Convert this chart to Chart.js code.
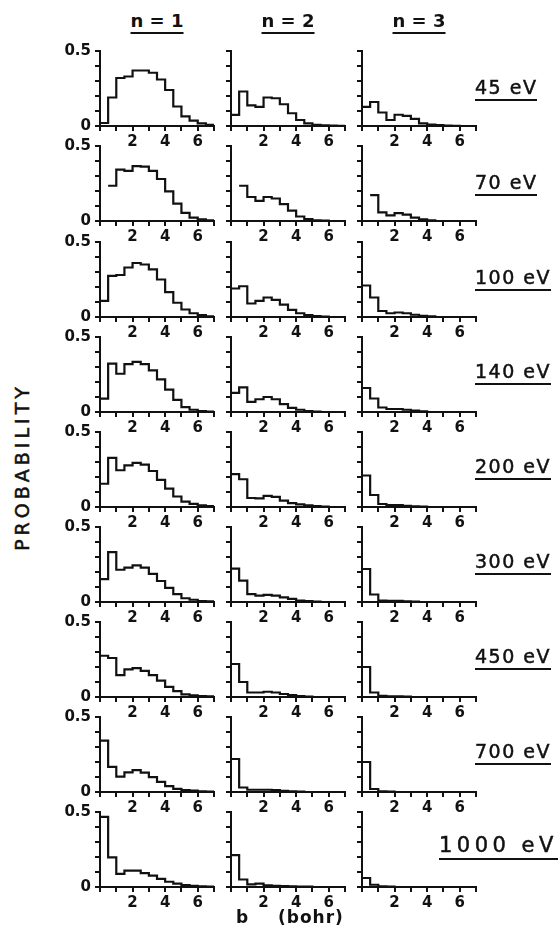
<!DOCTYPE html>
<html>
<head>
<meta charset="utf-8">
<script src="https://cdn.jsdelivr.net/npm/chart.js@4.4.1/dist/chart.umd.min.js"></script>
<style>
  html, body { margin: 0; padding: 0; background: #fff; }
  #fig { position: relative; width: 560px; height: 934px; overflow: hidden; font-family: "DejaVu Sans", sans-serif; color: #111; }
  #fig canvas { position: absolute; }
  .lbl { position: absolute; white-space: nowrap; line-height: 1; }
  .ul { border-bottom: 2px solid #111; padding-bottom: 2px; }
  .heavy { -webkit-text-stroke: 0.5px #111; }
</style>
</head>
<body>
<div id="fig"></div>
<script>
const columns = ['n = 1', 'n = 2', 'n = 3'];
const energies = ['45 eV', '70 eV', '100 eV', '140 eV', '200 eV', '300 eV', '450 eV', '700 eV', '1000 eV'];
const binEdges = [0, 0.5, 1, 1.5, 2, 2.5, 3, 3.5, 4, 4.5, 5, 5.5, 6, 6.5, 7];
const xTickLabels = [2, 4, 6];
const yTickLabels = [0, 0.5];

// probability per 0.5 bohr bin
const p45n1 = [0.02, 0.19, 0.32, 0.33, 0.37, 0.37, 0.355, 0.31, 0.24, 0.13, 0.064, 0.036, 0.017, 0.008];
const p45n2 = [0.074, 0.23, 0.138, 0.128, 0.19, 0.185, 0.145, 0.085, 0.04, 0.017, 0.008, 0.004, 0.002, 0.001];
const p45n3 = [0.128, 0.16, 0.09, 0.04, 0.075, 0.068, 0.047, 0.017, 0.01, 0.006, 0.003, 0.001, 0, 0];

const p70n1 = [null, 0.235, 0.343, 0.334, 0.366, 0.362, 0.334, 0.28, 0.198, 0.116, 0.054, 0.022, 0.011, 0.005];
const p70n2 = [null, 0.235, 0.16, 0.134, 0.16, 0.15, 0.112, 0.069, 0.03, 0.013, 0.005, 0.002, 0, 0];
const p70n3 = [null, 0.172, 0.058, 0.037, 0.052, 0.043, 0.022, 0.011, 0.004, 0, 0, 0, 0, 0];

const p100n1 = [0.108, 0.274, 0.28, 0.33, 0.36, 0.35, 0.317, 0.25, 0.166, 0.095, 0.05, 0.025, 0.012, 0.005];
const p100n2 = [0.19, 0.205, 0.09, 0.108, 0.13, 0.114, 0.082, 0.047, 0.025, 0.012, 0.006, 0.003, 0, 0];
const p100n3 = [0.21, 0.13, 0.04, 0.025, 0.03, 0.025, 0.015, 0.008, 0.004, 0, 0, 0, 0, 0];

const p140n1 = [0.089, 0.323, 0.255, 0.319, 0.334, 0.319, 0.277, 0.217, 0.149, 0.081, 0.032, 0.015, 0.006, 0.002];
const p140n2 = [0.128, 0.164, 0.068, 0.085, 0.1, 0.085, 0.053, 0.028, 0.015, 0.006, 0.003, 0, 0, 0];
const p140n3 = [0.16, 0.09, 0.03, 0.02, 0.02, 0.015, 0.01, 0.005, 0, 0, 0, 0, 0, 0];

const p200n1 = [0.155, 0.327, 0.245, 0.277, 0.294, 0.283, 0.24, 0.181, 0.123, 0.07, 0.036, 0.021, 0.011, 0.006];
const p200n2 = [0.219, 0.185, 0.06, 0.057, 0.074, 0.068, 0.043, 0.026, 0.017, 0.011, 0.006, 0.003, 0, 0];
const p200n3 = [0.21, 0.08, 0.02, 0.012, 0.012, 0.008, 0.005, 0.003, 0, 0, 0, 0, 0, 0];

const p300n1 = [0.152, 0.333, 0.215, 0.229, 0.244, 0.229, 0.188, 0.14, 0.094, 0.052, 0.025, 0.015, 0.006, 0.004];
const p300n2 = [0.223, 0.142, 0.052, 0.042, 0.048, 0.042, 0.031, 0.021, 0.01, 0.006, 0.003, 0, 0, 0];
const p300n3 = [0.22, 0.05, 0.01, 0.008, 0.008, 0.005, 0.003, 0, 0, 0, 0, 0, 0, 0];

const p450n1 = [0.275, 0.26, 0.146, 0.184, 0.193, 0.174, 0.146, 0.109, 0.067, 0.039, 0.017, 0.011, 0.006, 0.004];
const p450n2 = [0.22, 0.1, 0.03, 0.03, 0.035, 0.03, 0.02, 0.012, 0.006, 0.003, 0, 0, 0, 0];
const p450n3 = [0.2, 0.03, 0.008, 0.005, 0.005, 0.003, 0, 0, 0, 0, 0, 0, 0, 0];

const p700n1 = [0.343, 0.167, 0.103, 0.131, 0.146, 0.129, 0.099, 0.067, 0.039, 0.021, 0.013, 0.009, 0.004, 0.002];
const p700n2 = [0.22, 0.03, 0.015, 0.015, 0.015, 0.012, 0.008, 0.005, 0.003, 0, 0, 0, 0, 0];
const p700n3 = [0.2, 0.02, 0.005, 0.003, 0, 0, 0, 0, 0, 0, 0, 0, 0, 0];

const p1000n1 = [0.467, 0.198, 0.087, 0.109, 0.109, 0.093, 0.076, 0.054, 0.035, 0.022, 0.013, 0.007, 0.004, 0.002];
const p1000n2 = [0.213, 0.05, 0.017, 0.022, 0.011, 0.008, 0.006, 0.004, 0.003, 0.002, 0, 0, 0, 0];
const p1000n3 = [0.06, 0.015, 0.005, 0.003, 0, 0, 0, 0, 0, 0, 0, 0, 0, 0];

const rows = [
  [p45n1, p45n2, p45n3],
  [p70n1, p70n2, p70n3],
  [p100n1, p100n2, p100n3],
  [p140n1, p140n2, p140n3],
  [p200n1, p200n2, p200n3],
  [p300n1, p300n2, p300n3],
  [p450n1, p450n2, p450n3],
  [p700n1, p700n2, p700n3],
  [p1000n1, p1000n2, p1000n3]
];

const fig = document.getElementById('fig');
const INK = '#111';
const plotLeft = [100, 231, 362];
const plotW = 114, plotH = 78, padTop = 10, padRight = 6, xAxisH = 24;

function addText(text, css, cls) {
  const d = document.createElement('div');
  d.className = 'lbl' + (cls ? ' ' + cls : '');
  d.textContent = text;
  Object.assign(d.style, css);
  fig.appendChild(d);
  return d;
}

function rowTop(r) { return Math.round(48.3 + 95.1 * r); }

function makePanel(r, c, vals) {
  const yw = c === 0 ? 45 : 12;
  const cv = document.createElement('canvas');
  const w = yw + plotW + padRight, h = padTop + plotH + xAxisH;
  cv.width = w; cv.height = h;
  cv.style.width = w + 'px'; cv.style.height = h + 'px';
  cv.style.left = (plotLeft[c] - yw) + 'px';
  cv.style.top = (rowTop(r) - padTop) + 'px';
  fig.appendChild(cv);

  const pts = binEdges.map((x, i) => ({ x, y: i < vals.length ? vals[i] : vals[vals.length - 1] }));
  const tickGrid = { drawOnChartArea: false, tickLength: 5, color: INK, lineWidth: 2 };
  const border = { color: INK, width: 2 };

  new Chart(cv, {
    type: 'line',
    data: { datasets: [{ data: pts, borderColor: INK, borderWidth: 2.2, pointRadius: 0, stepped: true, fill: false, spanGaps: false }] },
    options: {
      responsive: false, animation: false, devicePixelRatio: 1,
      layout: { padding: { top: padTop, right: padRight, left: 0, bottom: 0 } },
      plugins: { legend: { display: false }, tooltip: { enabled: false } },
      scales: {
        x: {
          type: 'linear', min: 0, max: 7,
          afterFit: s => { s.height = xAxisH; },
          ticks: {
            stepSize: 1, autoSkip: false, maxRotation: 0, padding: 2, color: INK,
            font: { family: 'DejaVu Sans', weight: 'bold', size: 15 },
            callback: v => xTickLabels.includes(v) ? String(v) : ''
          },
          grid: tickGrid, border
        },
        y: {
          min: 0, max: 0.5,
          afterFit: s => { s.width = yw; },
          ticks: {
            stepSize: 0.1, autoSkip: false, padding: 4, color: INK,
            font: { family: 'DejaVu Sans', weight: 'bold', size: 15 },
            callback: v => {
              if (c !== 0) return '';
              const t = yTickLabels.find(t => Math.abs(t - v) < 1e-6);
              return t === undefined ? '' : String(t);
            }
          },
          grid: tickGrid, border
        }
      }
    }
  });
}

rows.forEach((row, r) => row.forEach((vals, c) => makePanel(r, c, vals)));

// column headers
columns.forEach((t, c) => {
  addText(t, { left: (plotLeft[c] + plotW / 2) + 'px', top: '12px', fontSize: '18px', fontWeight: 'bold', transform: 'translateX(-50%)' }, 'ul');
});

// energy labels on the right; the long one is set larger, out to the right margin
energies.forEach((t, r) => {
  const long = t.length > 6;
  const d = addText(t, { top: (88 + 94.8 * r - (long ? 11 : 10)) + 'px', fontSize: long ? '21px' : '19px', letterSpacing: long ? '4.5px' : '1.5px' }, 'ul heavy');
  const w = d.offsetWidth;
  d.style.left = Math.min(475, 558 - w) + 'px';
});

addText('PROBABILITY', { left: '22px', top: '467px', fontSize: '19px', letterSpacing: '4px', transform: 'translate(-50%,-50%) rotate(-90deg)' }, 'heavy');
addText('b', { left: '236px', top: '909px', fontSize: '17px', fontWeight: 'bold' });
addText('(bohr)', { left: '278px', top: '909px', fontSize: '17px', fontWeight: 'bold', letterSpacing: '1px' });
</script>
</body>
</html>
